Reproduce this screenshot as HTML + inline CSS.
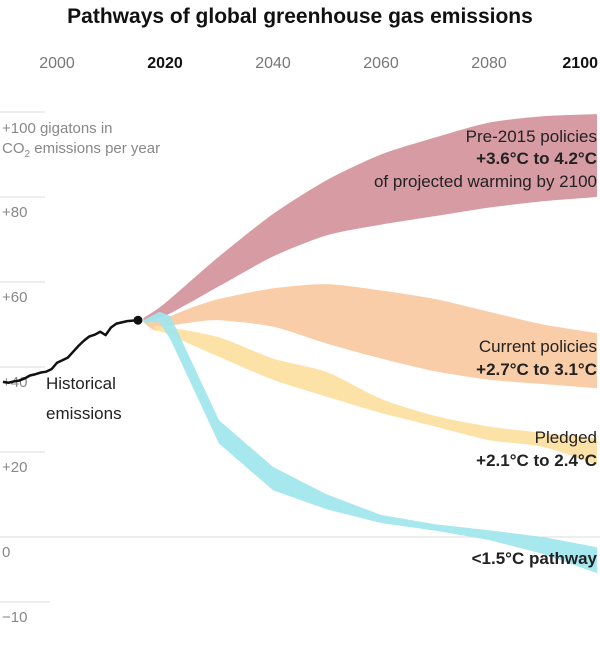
<!DOCTYPE html>
<html><head><meta charset="utf-8"><style>
body{margin:0;background:#fff;width:600px;height:641px;overflow:hidden;font-family:"Liberation Sans",sans-serif}
</style></head><body>
<svg id="c" width="600" height="641" xmlns="http://www.w3.org/2000/svg">
<text x="300" y="23" text-anchor="middle" font-size="21" font-weight="bold" fill="#111">Pathways of global greenhouse gas emissions</text>
<g id="grid"></g><g id="bands"></g><g id="hist"></g><g id="labels"></g>
</svg>
<script>
const xTickYears=[2000,2020,2040,2060,2080,2100];
const yTickVals=[100,80,60,40,20,0];
const histYears=[1990,1991,1992,1993,1994,1995,1996,1997,1998,1999,2000,2001,2002,2003,2004,2005,2006,2007,2008,2009,2010,2011,2012,2013,2014,2015];
const histVals=[36.5,36.3,36.6,36.8,37.3,38,38.3,38.7,38.9,39.5,41,41.6,42.2,43.6,45,46.2,47.2,47.6,48.3,47.5,49.3,50.2,50.5,50.8,50.9,51];
const preYears=[2016,2020,2030,2040,2050,2060,2070,2080,2090,2100];
const preUpper=[51.5,55,66,76,84,90,94,97.5,99,99.5];
const preLower=[51,52,59,66,71,73.5,75.5,77.5,79,80];
const curYears=[2016,2018,2020,2025,2030,2040,2050,2060,2070,2080,2090,2100];
const curUpper=[51,51.2,51.5,54,56,58.5,59.5,58,56,53,50,48];
const curLower=[50.5,48.7,49.5,50.5,51,49.5,45.5,42,39,37,36,35];
const pleYears=[2018,2020,2030,2040,2050,2060,2070,2080,2090,2100];
const pleUpper=[49.8,49.5,47,42,38.8,32.5,28.5,26,24.5,23.3];
const pleLower=[48.5,48,42.4,37,33,29.2,26,22.8,21.2,17];
const p15Years=[2016,2019,2021,2030,2040,2050,2060,2070,2080,2090,2100];
const p15Upper=[51,53,52,27.5,16.5,10,5.2,3,1.6,0,-2.4];
const p15Lower=[50.5,50.5,46.5,22,11,6.5,3.3,1.5,-0.7,-4,-8.5];

const X=y=>57+(y-2000)*5.4;
const Y=v=>537-4.25*v;
const NS='http://www.w3.org/2000/svg';
function mk(tag,attrs,parent,txt){const e=document.createElementNS(NS,tag);for(const k in attrs)e.setAttribute(k,attrs[k]);if(txt!==undefined)e.textContent=txt;document.getElementById(parent).appendChild(e);return e;}
function smooth(pts,k){let d='M'+pts[0][0]+','+pts[0][1];for(let i=0;i<pts.length-1;i++){const p0=pts[i-1]||pts[i],p1=pts[i],p2=pts[i+1],p3=pts[i+2]||p2;
const c1=[p1[0]+(p2[0]-p0[0])*k,p1[1]+(p2[1]-p0[1])*k],c2=[p2[0]-(p3[0]-p1[0])*k,p2[1]-(p3[1]-p1[1])*k];
d+=' C'+c1[0]+','+c1[1]+' '+c2[0]+','+c2[1]+' '+p2[0]+','+p2[1];}return d;}
function band(years,up,lo,k){const u=years.map((y,i)=>[X(y),Y(up[i])]);const l=years.map((y,i)=>[X(y),Y(lo[i])]).reverse();
return smooth(u,k)+' L'+l[0][0]+','+l[0][1]+smooth(l,k).replace(/^M[^C]*/,' ')+' Z';}

yTickVals.forEach(v=>{
 const ln=mk('line',{x1:0,x2:v===0?600:45,y1:Y(v),y2:Y(v),stroke:'#ddd','stroke-width':1},'grid');
 
 
 if(v!==100){const t=mk('text',{x:2,y:Y(v)+20,'font-size':15,fill:'#888'},'grid',v>0?'+'+v:''+v);
 
 }
});
const mn=mk('line',{x1:0,x2:50,y1:602,y2:602,stroke:'#ddd'},'grid');


const mt=mk('text',{x:2,y:622,'font-size':15,fill:'#888'},'grid','−10');


const yt=mk('text',{x:2,y:133,'font-size':15,fill:'#888'},'grid','+100 gigatons in');


const yt2=mk('text',{x:2,y:153,'font-size':15,fill:'#888'},'grid','');
yt2.innerHTML='CO<tspan font-size="10" dy="4">2</tspan><tspan dy="-4"> emissions per year</tspan>';



xTickYears.forEach((yr,i)=>{
 const bold=(yr===2020||yr===2100);
 const t=mk('text',{x:i===5?598:X(yr),y:68,'text-anchor':i===5?'end':'middle','font-size':16,fill:bold?'#111':'#777','font-weight':bold?'bold':'normal'},'labels',''+yr);
 
 
});

const series=[[preYears,preUpper,preLower,'#d4939c','band-pre-2015',1/8],[curYears,curUpper,curLower,'#f8c9a0','band-current-policies',1/8],[pleYears,pleUpper,pleLower,'#fde0a0','band-pledged',1/8],[p15Years,p15Upper,p15Lower,'#a0e6ee','band-1-5c-pathway',0]];
series.forEach(s=>{const p=mk('path',{d:band(s[0],s[1],s[2],s[5]),fill:s[3],opacity:0.92,'stroke-linejoin':'round'},'bands');
 
 });

const hp=mk('path',{d:'M'+histYears.map((y,i)=>X(y)+','+Y(histVals[i])).join(' L'),fill:'none',stroke:'#111','stroke-width':2.5,'stroke-linejoin':'round'},'hist');


const dot=mk('circle',{cx:X(histYears[histYears.length-1]),cy:Y(histVals[histVals.length-1]),r:4.5,fill:'#111'},'hist');



const labs=[[46,389,'start','normal','Historical','label-historical'],[46,419,'start','normal','emissions','label-historical-2'],
[597,142,'end','normal','Pre-2015 policies','label-pre-2015'],[597,164,'end','bold','+3.6°C to 4.2°C','label-pre-2015-range'],[597,187,'end','normal','of projected warming by 2100','label-pre-2015-note'],
[597,352,'end','normal','Current policies','label-current'],[597,375,'end','bold','+2.7°C to 3.1°C','label-current-range'],
[597,443,'end','normal','Pledged','label-pledged'],[597,466,'end','bold','+2.1°C to 2.4°C','label-pledged-range'],
[597,564,'end','bold','<1.5°C pathway','label-1-5c']];
labs.forEach(l=>{const t=mk('text',{x:l[0],y:l[1],'text-anchor':l[2],'font-weight':l[3],'font-size':17,fill:'#222'},'labels',l[4]);
 
 });
</script>
</body></html>
